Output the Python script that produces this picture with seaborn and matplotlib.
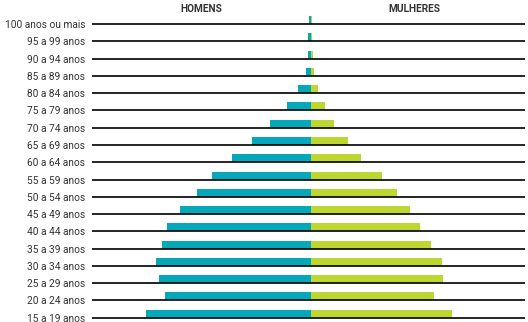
import matplotlib
matplotlib.use("Agg")
import matplotlib.pyplot as plt
import seaborn as sns
import pandas as pd
import numpy as np

# Age groups, oldest at the top
faixas = [
    "100 anos ou mais", "95 a 99 anos", "90 a 94 anos", "85 a 89 anos",
    "80 a 84 anos", "75 a 79 anos", "70 a 74 anos", "65 a 69 anos",
    "60 a 64 anos", "55 a 59 anos", "50 a 54 anos", "45 a 49 anos",
    "40 a 44 anos", "35 a 39 anos", "30 a 34 anos", "25 a 29 anos",
    "20 a 24 anos", "15 a 19 anos",
]
homens = [2, 3, 3, 5, 13, 24, 41, 59, 79, 99, 114, 131, 144, 149, 155, 152, 146, 165]
mulheres = [1, 1, 2, 3, 7, 14, 23, 37, 50, 71, 86, 99, 109, 120, 131, 132, 123, 141]

sexos = ["HOMENS", "MULHERES"]
cores = {"HOMENS": "#03a9bb", "MULHERES": "#bed630"}

df = pd.DataFrame({
    "faixa": faixas * 2,
    "sexo": [sexos[0]] * len(faixas) + [sexos[1]] * len(faixas),
    "valor": [-v for v in homens] + mulheres,
})

sns.set_theme(style="white")
plt.rcParams["font.family"] = ["Roboto", "DejaVu Sans"]

W, H = 528, 322
fig = plt.figure(figsize=(W / 100, H / 100), dpi=100)
ax_left, ax_right = 92, 525
ax_top, ax_bot = 14, 320
ax = fig.add_axes([ax_left / W, 1 - ax_bot / H, (ax_right - ax_left) / W, (ax_bot - ax_top) / H])

row = 17.28          # pixels per age group
bar_h = 8 / row      # bar thickness in category units
off = bar_h / 2      # bars sit directly on top of their baseline

sns.barplot(data=df, y="faixa", x="valor", hue="sexo", order=faixas,
            palette=cores, dodge=False, width=bar_h, orient="h",
            saturation=1, legend=False, ax=ax, edgecolor="none", linewidth=0)

n = len(faixas)
y_lines = np.arange(n) + off
ax.hlines(y_lines, -219, 214, color="black", linewidth=1.2, zorder=3)

ax.set_xlim(-219, 214)
ax.set_ylim(off + (ax_bot - 24) / row, off - (24 - ax_top) / row)
ax.set_yticks(y_lines)
ax.set_yticklabels(faixas, fontsize=7.3, color="#333333")
ax.tick_params(axis="y", length=0, pad=5)
ax.set_xticks([])
ax.set_xlabel("")
ax.set_ylabel("")
for s in ax.spines.values():
    s.set_visible(False)

fig.text(201 / W, 1 - 9 / H, "HOMENS", ha="center", va="center",
         fontsize=7.3, fontweight="bold", color="#333333")
fig.text(414 / W, 1 - 9 / H, "MULHERES", ha="center", va="center",
         fontsize=7.3, fontweight="bold", color="#333333")

fig.savefig("out.png", dpi=100)
